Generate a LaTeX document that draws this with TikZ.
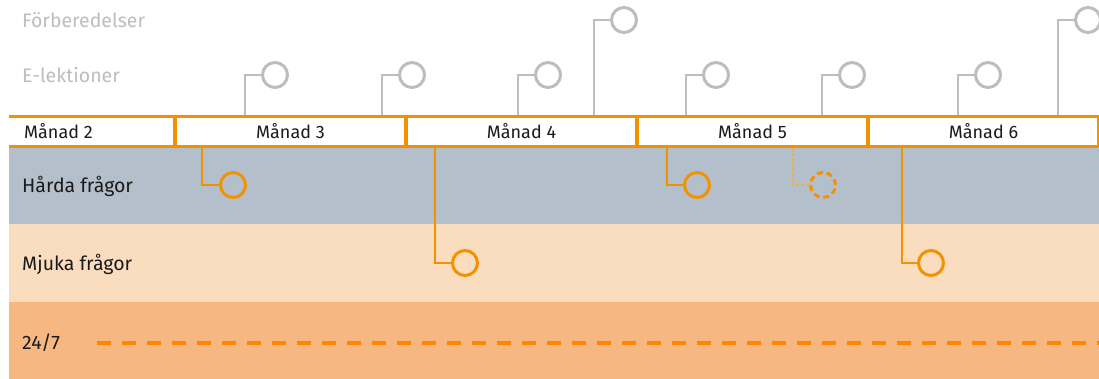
\documentclass[tikz,border=0pt]{standalone}
\usepackage{fontspec}
\setmainfont{Fira Sans}
\definecolor{orng}{HTML}{F39200}
\definecolor{gry}{HTML}{BDBDBD}
\definecolor{hardband}{HTML}{B4BFCC}
\definecolor{softband}{HTML}{FADDBF}
\definecolor{allband}{HTML}{F6B880}
\definecolor{allline}{HTML}{FF8700}
\definecolor{ink}{HTML}{1A1A1A}
\begin{document}
\begin{tikzpicture}[x=1pt,y=-1pt,
    gdot/.style={circle,draw=gry,line width=3pt,minimum size=25pt,inner sep=0pt},
    odot/.style={circle,draw=orng,line width=3pt,minimum size=25pt,inner sep=0pt},
    glink/.style={draw=gry,line width=1.3pt},
    olink/.style={draw=orng,line width=1.3pt},
    rowlabel/.style={anchor=west,inner sep=0pt,font=\fontsize{19.5}{23}\selectfont},
    monthbox/.style={draw=orng,line width=3.5pt,fill=white,minimum width=231pt,
      minimum height=30pt,inner sep=0pt,text=ink,font=\fontsize{18}{22}\selectfont}]
    \useasboundingbox (0,0) rectangle (1099,379);
    % bands
    \fill[hardband] (9,147) rectangle (1099,224);
    \fill[softband] (9,224) rectangle (1099,302);
    \fill[allband] (9,302) rectangle (1099,379);
    \draw[black!25,line width=1pt] (9,224) -- (1099,224);
    % row labels
    \node[rowlabel,text=gry] (prep) at (22,20) {Förberedelser};
    \node[rowlabel,text=gry] (elek) at (22,75) {E-lektioner};
    \node[rowlabel,text=ink] (hard) at (22,186) {Hårda frågor};
    \node[rowlabel,text=ink] (soft) at (22,264) {Mjuka frågor};
    \node[rowlabel,text=ink] (allday) at (22,343) {24/7};
    % months
    \draw[orng,line width=3.5pt] (9,116.5) -- (175,116.5) (9,146.5) -- (175,146.5);
    \node[anchor=west,inner sep=0pt,text=ink,font=\fontsize{18}{22}\selectfont] (m2) at (24,131.5) {Månad 2};
    \foreach \m in {3,...,6}
    \node[monthbox] (m\m) at (175+231*\m-693+115.5,131.5) {Månad \m};
    % e-lektioner and förberedelser
    \foreach \n/\cx/\cy/\vx in {e1/275/75/245,e2/412/75/382,e3/548/75/518,f1/624/20/594,
        e4/716/75/686,e5/852/75/822,e6/988/75/958,f2/1088/20/1058} {
      \node[gdot] (\n) at (\cx,\cy) {};
      \coordinate (\n-foot) at (\vx,115);
      \draw[glink] (\n-foot) |- (\n);
    }
    % frågor
    \foreach \n/\cx/\cy/\vx in {h1/233/185/202,h2/697/185/667,s1/465/263/435,s2/931/263/902} {
      \node[odot] (\n) at (\cx,\cy) {};
      \coordinate (\n-foot) at (\vx,148);
      \draw[olink] (\n-foot) |- (\n);
    }
    \node[odot,dash pattern=on 6pt off 3.8pt] (h3) at (823,185) {};
    \coordinate (h3-foot) at (793,148);
    \draw[olink,draw=orng!75,dash pattern=on 3pt off 2pt] (h3-foot) |- (h3);
    % 24/7
    \coordinate (allstart) at (97,342.5);
    \coordinate (allend) at (1099,342.5);
    \draw[allline,line width=4pt,dash pattern=on 14pt off 11pt] (allstart) -- (allend);
\end{tikzpicture}
\end{document}
